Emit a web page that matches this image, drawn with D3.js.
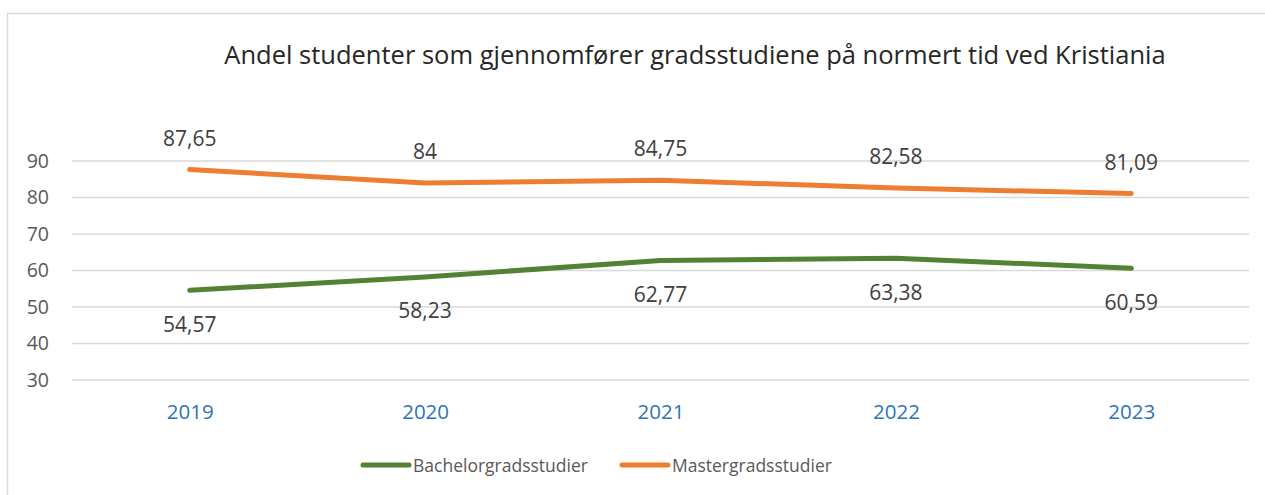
<!DOCTYPE html>
<html>
<head>
<meta charset="utf-8">
<script src="https://cdn.jsdelivr.net/npm/d3@7"></script>
<style>
  body { margin: 0; background: #fff; }
  text { font-family: "Open Sans", "Noto Sans", sans-serif; }
</style>
</head>
<body>
<div class="chart"></div>
<script>
var years = ["2019", "2020", "2021", "2022", "2023"];
var bachelor = [54.57, 58.23, 62.77, 63.38, 60.59];
var master = [87.65, 84, 84.75, 82.58, 81.09];
var yTicks = [30, 40, 50, 60, 70, 80, 90];
var seriesNames = ["Bachelorgradsstudier", "Mastergradsstudier"];
var title = "Andel studenter som gjennomfører gradsstudiene på normert tid ved Kristiania";

var svgWidth = 1265;
var svgHeight = 495;

var svg = d3.select(".chart")
  .append("svg")
  .attr("width", svgWidth)
  .attr("height", svgHeight);

// outer chart frame
svg.append("rect")
  .attr("x", 7.5)
  .attr("y", 13.5)
  .attr("width", 1270)
  .attr("height", 500)
  .attr("fill", "none")
  .attr("stroke", "#d9d9d9")
  .attr("stroke-width", 1.5);

svg.append("text")
  .attr("x", 695)
  .attr("y", 64)
  .attr("text-anchor", "middle")
  .attr("font-size", 25.5)
  .attr("fill", "#262626")
  .text(title);

var xScale = d3.scalePoint()
  .domain(years)
  .range([72, 1249])
  .padding(0.5);

var yScale = d3.scaleLinear()
  .domain([30, 90])
  .range([380, 161]);

// gridlines
svg.append("g")
  .selectAll("line")
  .data(yTicks)
  .enter()
  .append("line")
  .attr("x1", 72)
  .attr("x2", 1249)
  .attr("y1", d => yScale(d))
  .attr("y2", d => yScale(d))
  .attr("stroke", "#d9d9d9")
  .attr("stroke-width", 1.3);

// y axis labels
var leftAxis = d3.axisLeft(yScale).tickValues(yTicks).tickSize(0).tickPadding(0);
var yAxisG = svg.append("g")
  .attr("transform", "translate(49,0)")
  .call(leftAxis);
yAxisG.select(".domain").remove();
yAxisG.selectAll("text")
  .attr("font-size", 19.5)
  .attr("fill", "#595959")
  .style("font-family", "'Open Sans', sans-serif");

// x axis labels
var bottomAxis = d3.axisBottom(xScale).tickSize(0).tickPadding(0);
var xAxisG = svg.append("g")
  .attr("transform", "translate(0,404)")
  .call(bottomAxis);
xAxisG.select(".domain").remove();
xAxisG.selectAll("text")
  .attr("font-size", 20.5)
  .attr("fill", "#2e75b6")
  .style("font-family", "'Open Sans', sans-serif");

var series = [
  { name: seriesNames[0], values: bachelor, color: "#548235", dy: 41.5 },
  { name: seriesNames[1], values: master, color: "#ed7d31", dy: -24 }
];

var line = d3.line()
  .x((d, i) => xScale(years[i]))
  .y(d => yScale(d));

series.forEach(function(s) {
  svg.append("path")
    .datum(s.values)
    .attr("d", line)
    .attr("fill", "none")
    .attr("stroke", s.color)
    .attr("stroke-width", 5)
    .attr("stroke-linecap", "round")
    .attr("stroke-linejoin", "round");

  svg.append("g")
    .selectAll("text")
    .data(s.values)
    .enter()
    .append("text")
    .attr("x", (d, i) => xScale(years[i]))
    .attr("y", d => yScale(d) + s.dy)
    .attr("text-anchor", "middle")
    .attr("font-size", 21)
    .attr("fill", "#404040")
    .text(d => String(d).replace(".", ","));
});

// legend
var legendX = [363, 622];
var legend = svg.append("g");
series.forEach(function(s, i) {
  legend.append("line")
    .attr("x1", legendX[i])
    .attr("x2", legendX[i] + 46)
    .attr("y1", 465)
    .attr("y2", 465)
    .attr("stroke", s.color)
    .attr("stroke-width", 5)
    .attr("stroke-linecap", "round");
  legend.append("text")
    .attr("x", legendX[i] + 50)
    .attr("y", 471.5)
    .attr("font-size", 17.5)
    .attr("fill", "#595959")
    .text(s.name);
});
</script>
</body>
</html>
